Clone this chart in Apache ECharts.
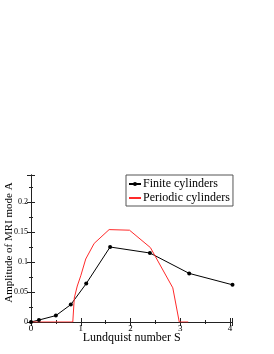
<!DOCTYPE html>
<html><head><meta charset="utf-8">
<script src="https://cdn.jsdelivr.net/npm/echarts@6/dist/echarts.min.js"></script>
<style>html,body{margin:0;padding:0;background:#fff}#c{width:274px;height:354px}</style>
</head><body><div id="c"></div>
<script>
const finiteS = [0, 0.16, 0.5, 0.8, 1.11, 1.59, 2.39, 3.18, 4.05];
const finiteA = [0, 0.0033, 0.0107, 0.029, 0.064, 0.125, 0.115, 0.081, 0.062];
const periodicS = [0, 0.84, 0.87, 0.93, 1.0, 1.1, 1.27, 1.57, 1.98, 2.4, 2.85, 2.98, 3.16];
const periodicA = [0, 0, 0.04, 0.06, 0.077, 0.105, 0.131, 0.154, 0.153, 0.124, 0.057, 0, 0];
const seriesNames = ['Finite cylinders', 'Periodic cylinders'];
const xTicks = [0, 1, 2, 3, 4];
const yTicks = [0, 0.05, 0.1, 0.15, 0.2];

const font = 'Liberation Serif';
const chart = echarts.init(document.getElementById('c'), null, {renderer: 'canvas'});
const axisCommon = {
  axisLine: {lineStyle: {color: '#222', width: 1}},
  axisTick: {inside: true, length: 4, lineStyle: {color: '#222'}},
  minorTick: {show: true, splitNumber: 2, length: 2, lineStyle: {color: '#222'}},
  splitLine: {show: false}
};
chart.setOption({
  animation: false,
  backgroundColor: '#fff',
  grid: {left: 31, top: 175, right: 41.5, bottom: 32, outerBoundsMode: 'none', containLabel: false},
  legend: {
    orient: 'vertical', left: 126, top: 175,
    backgroundColor: '#fff', borderColor: '#555', borderWidth: 1,
    padding: [3, 3, 2, 2], itemGap: 2, itemWidth: 12, itemHeight: 5,
    textStyle: {fontFamily: font, fontSize: 12, color: '#000', padding: [0, 0, 0, -3]},
    data: [
      {name: seriesNames[0]},
      {name: seriesNames[1], itemStyle: {color: 'rgba(0,0,0,0)', borderWidth: 0, opacity: 0}}
    ]
  },
  xAxis: [
    Object.assign({type: 'value', min: 0, max: 4.05, interval: 1,
      name: 'Lundquist number S', nameLocation: 'middle', nameGap: 10, nameMoveOverlap: false,
      nameTextStyle: {fontFamily: font, fontSize: 12, color: '#000'},
      axisLabel: {fontFamily: font, fontSize: 9, color: '#000', margin: 2, showMaxLabel: false,
        formatter: v => xTicks.includes(v) ? String(v) : ''}}, axisCommon),
    Object.assign({type: 'value', position: 'top', min: 0, max: 4.05, interval: 1,
      axisLabel: {show: false}}, axisCommon)
  ],
  yAxis: [
    Object.assign({type: 'value', min: 0, max: 0.245, interval: 0.05,
      name: 'Amplitude of MRI mode A', nameLocation: 'middle', nameGap: 16, nameMoveOverlap: false,
      nameTextStyle: {fontFamily: font, fontSize: 11, color: '#000', padding: [0, 0, 0, 12]},
      axisLabel: {fontFamily: font, fontSize: 8, color: '#000', margin: 3, showMaxLabel: false,
        formatter: v => yTicks.some(t => Math.abs(t - v) < 1e-9) ? String(+v.toFixed(3)) : ''}}, axisCommon),
    Object.assign({type: 'value', position: 'right', min: 0, max: 0.245, interval: 0.05,
      axisLabel: {show: false}}, axisCommon)
  ],
  series: [
    {name: seriesNames[0], type: 'line', data: finiteS.map((s, i) => [s, finiteA[i]]),
      symbol: 'circle', symbolSize: 4, showSymbol: true,
      lineStyle: {color: '#000', width: 1}, itemStyle: {color: '#000'}, clip: true},
    {name: seriesNames[1], type: 'line', data: periodicS.map((s, i) => [s, periodicA[i]]),
      symbol: 'none', lineStyle: {color: '#ff2a2a', width: 1}, itemStyle: {color: '#ff2a2a'}, clip: true}
  ]
});
</script></body></html>
